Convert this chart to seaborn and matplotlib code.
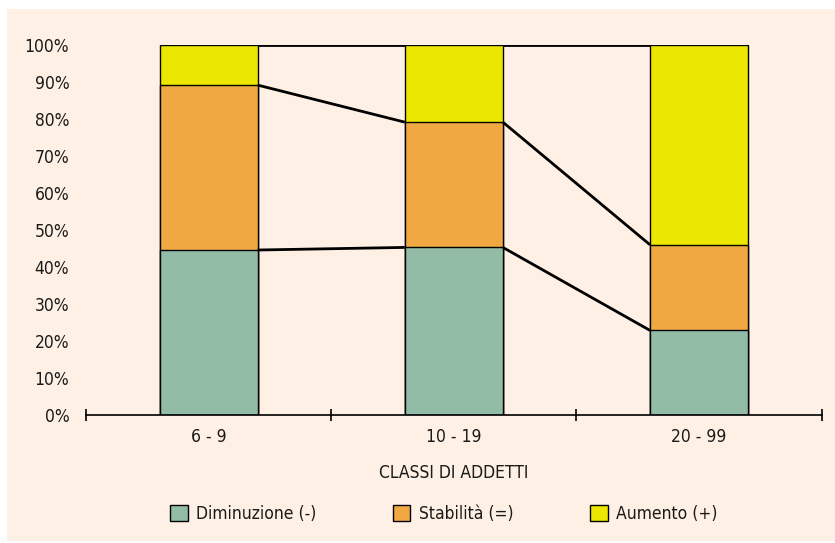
import matplotlib
matplotlib.use("Agg")
import matplotlib.pyplot as plt
from matplotlib import font_manager
from matplotlib.patches import Rectangle
import seaborn as sns
import pandas as pd
import numpy as np

# Shares of firms by employee class and expected change
classes = ["6 - 9", "10 - 19", "20 - 99"]
diminuzione = [44.6, 45.3, 22.9]
stabilita = [44.5, 33.8, 23.1]
aumento = [10.9, 20.9, 54.0]
series_names = ["Diminuzione (-)", "Stabilità (=)", "Aumento (+)"]
yticks = [0, 10, 20, 30, 40, 50, 60, 70, 80, 90, 100]

colors = ["#93BCA7", "#F0A843", "#EBE700"]
bg = "#FEF0E4"

sns.set_theme(style="white")
condensed = [f for f in font_manager.fontManager.ttflist
             if f.name == "DejaVu Sans" and f.stretch == "condensed"]
plt.rcParams["font.family"] = ["DejaVu Sans"]
if condensed:
    plt.rcParams["font.stretch"] = "condensed"

fig = plt.figure(figsize=(8.35, 5.43), dpi=100, facecolor="white")
fig.patches.append(Rectangle((7 / 835, 1 - 541 / 543), 1 - 7 / 835, (541 - 9) / 543,
                             transform=fig.transFigure, facecolor=bg, edgecolor="none", zorder=-5))

ax = fig.add_axes([86 / 835, 1 - 415.3 / 543, (821.7 - 86) / 835, (415.3 - 44.7) / 543])
ax.set_zorder(1)
ax.patch.set_alpha(0)

df = pd.DataFrame({"classe": classes,
                   series_names[0]: diminuzione,
                   series_names[1]: stabilita,
                   series_names[2]: aumento})
cum = df[series_names].cumsum(axis=1)

# Stacked bars: draw cumulative totals from the top layer down
for name, col in reversed(list(zip(series_names, colors))):
    sns.barplot(x=df["classe"], y=cum[name], color=col, width=0.4,
                edgecolor="black", linewidth=1.0, saturation=1, ax=ax, zorder=2)

# Series lines joining the bar segments
half = 0.2
for name in series_names:
    vals = cum[name].values
    for i in range(len(classes) - 1):
        ax.plot([i + half, i + 1 - half], [vals[i], vals[i + 1]],
                color="black", linewidth=2.0, zorder=3, solid_capstyle="butt")

ax.set_xlim(-0.5, len(classes) - 0.5)
ax.set_ylim(0, 100)
ax.set_yticks(yticks)
ax.set_yticklabels([f"{v}%" for v in yticks], fontsize=12.5, color="#1a1a1a")
ax.tick_params(axis="y", left=False, length=0, pad=12)

ax.set_xticks(np.arange(-0.5, len(classes), 1.0), minor=False)
ax.set_xticklabels([])
ax.set_xticks(np.arange(len(classes)), minor=True)
ax.set_xticklabels(classes, minor=True, fontsize=12.5, color="#1a1a1a")
ax.tick_params(axis="x", which="major", bottom=True, direction="inout", length=9,
               width=1.2, color="black")
ax.tick_params(axis="x", which="minor", bottom=True, length=0, pad=9)

ax.set_xlabel("CLASSI DI ADDETTI", fontsize=12.5, color="#1a1a1a", labelpad=13)
ax.set_ylabel("")

for s in ["top", "right", "left"]:
    ax.spines[s].set_visible(False)
ax.spines["bottom"].set_color("black")
ax.spines["bottom"].set_linewidth(1.2)
ax.spines["bottom"].set_zorder(4)

# Legend
handles = [Rectangle((0, 0), 1, 1, facecolor=c, edgecolor="black", linewidth=1.0) for c in colors]
leg = fig.legend(handles, series_names, loc="center", bbox_to_anchor=(444 / 835, 1 - 514 / 543),
                 ncol=3, frameon=False, fontsize=12.5, handlelength=1.0, handleheight=1.0,
                 handletextpad=0.5, columnspacing=4.4)
for t in leg.get_texts():
    t.set_color("#1a1a1a")

fig.savefig("out.png", dpi=100, facecolor="white")
